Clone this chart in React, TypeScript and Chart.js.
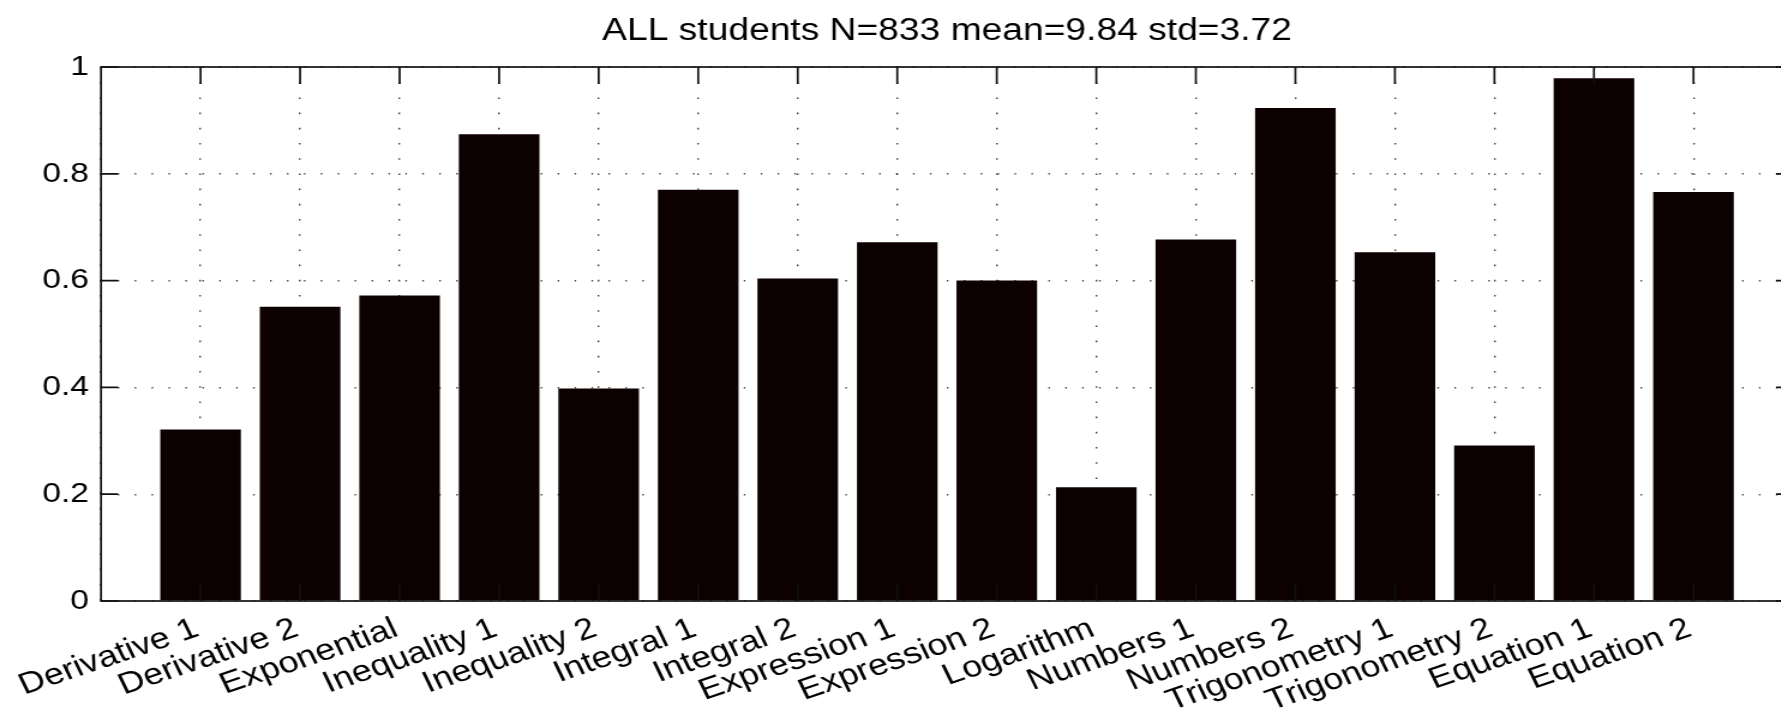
import React, { useEffect, useRef } from "react";
import { Chart, registerables } from "chart.js";

Chart.register(...registerables);

const TITLE = "ALL students N=833 mean=9.84 std=3.72";

const CATEGORIES = [
  "Derivative 1",
  "Derivative 2",
  "Exponential",
  "Inequality 1",
  "Inequality 2",
  "Integral 1",
  "Integral 2",
  "Expression 1",
  "Expression 2",
  "Logarithm",
  "Numbers 1",
  "Numbers 2",
  "Trigonometry 1",
  "Trigonometry 2",
  "Equation 1",
  "Equation 2",
];

const SCORES = [
  0.321, 0.551, 0.572, 0.874, 0.398, 0.77, 0.604, 0.672, 0.6, 0.213, 0.677,
  0.923, 0.653, 0.291, 0.979, 0.766,
];

const Y_TICKS = [0, 0.2, 0.4, 0.6, 0.8, 1];

// horizontal stretch of the reference figure
const SX = 1.2;
const CANVAS_W = 1500;
const CANVAS_H = 714;
const PLOT_LEFT = 101 / SX;
const PLOT_RIGHT = 1793 / SX;
const PLOT_TOP = 67;
const PLOT_BOTTOM = 601;
const FONT = '"Liberation Sans", Arial, Helvetica, sans-serif';

const boxPlugin = {
  id: "matlabBox",
  afterDatasetsDraw(chart: any) {
    const { ctx, chartArea: a, scales } = chart;
    const xs = scales.x;
    const ys = scales.y;
    ctx.save();
    ctx.strokeStyle = "#111";
    ctx.lineWidth = 1.7;
    ctx.strokeRect(a.left, a.top, a.right - a.left, a.bottom - a.top);
    ctx.beginPath();
    const hLen = 17 / SX;
    const vLen = 17;
    Y_TICKS.forEach((v) => {
      const py = ys.getPixelForValue(v);
      ctx.moveTo(a.left, py);
      ctx.lineTo(a.left + hLen, py);
      ctx.moveTo(a.right, py);
      ctx.lineTo(a.right - hLen, py);
    });
    CATEGORIES.forEach((_, i) => {
      const px = xs.getPixelForValue(i + 1);
      ctx.moveTo(px, a.top);
      ctx.lineTo(px, a.top + vLen);
      ctx.moveTo(px, a.bottom);
      ctx.lineTo(px, a.bottom - vLen);
    });
    ctx.stroke();
    ctx.restore();
  },
  afterDraw(chart: any) {
    const { ctx, chartArea: a } = chart;
    ctx.save();
    ctx.fillStyle = "#000";
    ctx.font = `31px ${FONT}`;
    ctx.textAlign = "center";
    ctx.textBaseline = "alphabetic";
    ctx.fillText(TITLE, (a.left + a.right) / 2, 39.5);
    ctx.restore();
  },
};

export default function App() {
  const ref = useRef<HTMLCanvasElement>(null);

  useEffect(() => {
    if (!ref.current) return;
    const labels = ["", ...CATEGORIES, ""];
    const data = [null, ...SCORES, null];
    const chart = new Chart(ref.current, {
      type: "bar",
      data: {
        labels,
        datasets: [
          {
            data,
            backgroundColor: "#0c0000",
            borderWidth: 0,
            categoryPercentage: 0.81,
            barPercentage: 1,
          },
        ],
      },
      options: {
        animation: false,
        responsive: false,
        devicePixelRatio: 1,
        layout: {
          padding: {
            top: PLOT_TOP,
            left: 0,
            right: CANVAS_W - PLOT_RIGHT,
            bottom: 0,
          },
        },
        plugins: {
          legend: { display: false },
          title: { display: false },
          tooltip: { enabled: false },
        },
        scales: {
          x: {
            type: "category",
            offset: false,
            grid: {
              offset: false,
              color: "rgba(0,0,0,0.75)",
              lineWidth: 1.4,
              drawTicks: false,
            },
            border: { display: false, dash: [1.6, 13.6] },
            ticks: {
              autoSkip: false,
              minRotation: 22,
              maxRotation: 22,
              padding: 10,
              labelOffset: -3,
              color: "#000",
              font: { family: FONT, size: 30 },
            },
            afterFit(scale: any) {
              scale.height = CANVAS_H - PLOT_BOTTOM;
              scale.paddingLeft = 0;
              scale.paddingRight = 0;
            },
          },
          y: {
            min: 0,
            max: 1,
            grid: {
              color: "rgba(0,0,0,0.75)",
              lineWidth: 1.4,
              drawTicks: false,
            },
            border: { display: false, dash: [1.3, 12.8] },
            ticks: {
              stepSize: 0.2,
              padding: 10,
              color: "#000",
              font: { family: FONT, size: 28 },
              callback: (v: any) => String(Math.round(Number(v) * 10) / 10),
            },
            afterFit(scale: any) {
              scale.width = PLOT_LEFT;
              scale.paddingTop = 0;
              scale.paddingBottom = 0;
            },
          },
        },
      },
      plugins: [boxPlugin],
    });
    return () => chart.destroy();
  }, []);

  return (
    <div
      style={{
        position: "fixed",
        left: 0,
        top: 0,
        width: 1781,
        height: 714,
        overflow: "hidden",
        background: "#fff",
      }}
    >
      <canvas
        ref={ref}
        width={CANVAS_W}
        height={CANVAS_H}
        style={{
          display: "block",
          width: `${CANVAS_W * SX}px`,
          height: `${CANVAS_H}px`,
        }}
      />
    </div>
  );
}
